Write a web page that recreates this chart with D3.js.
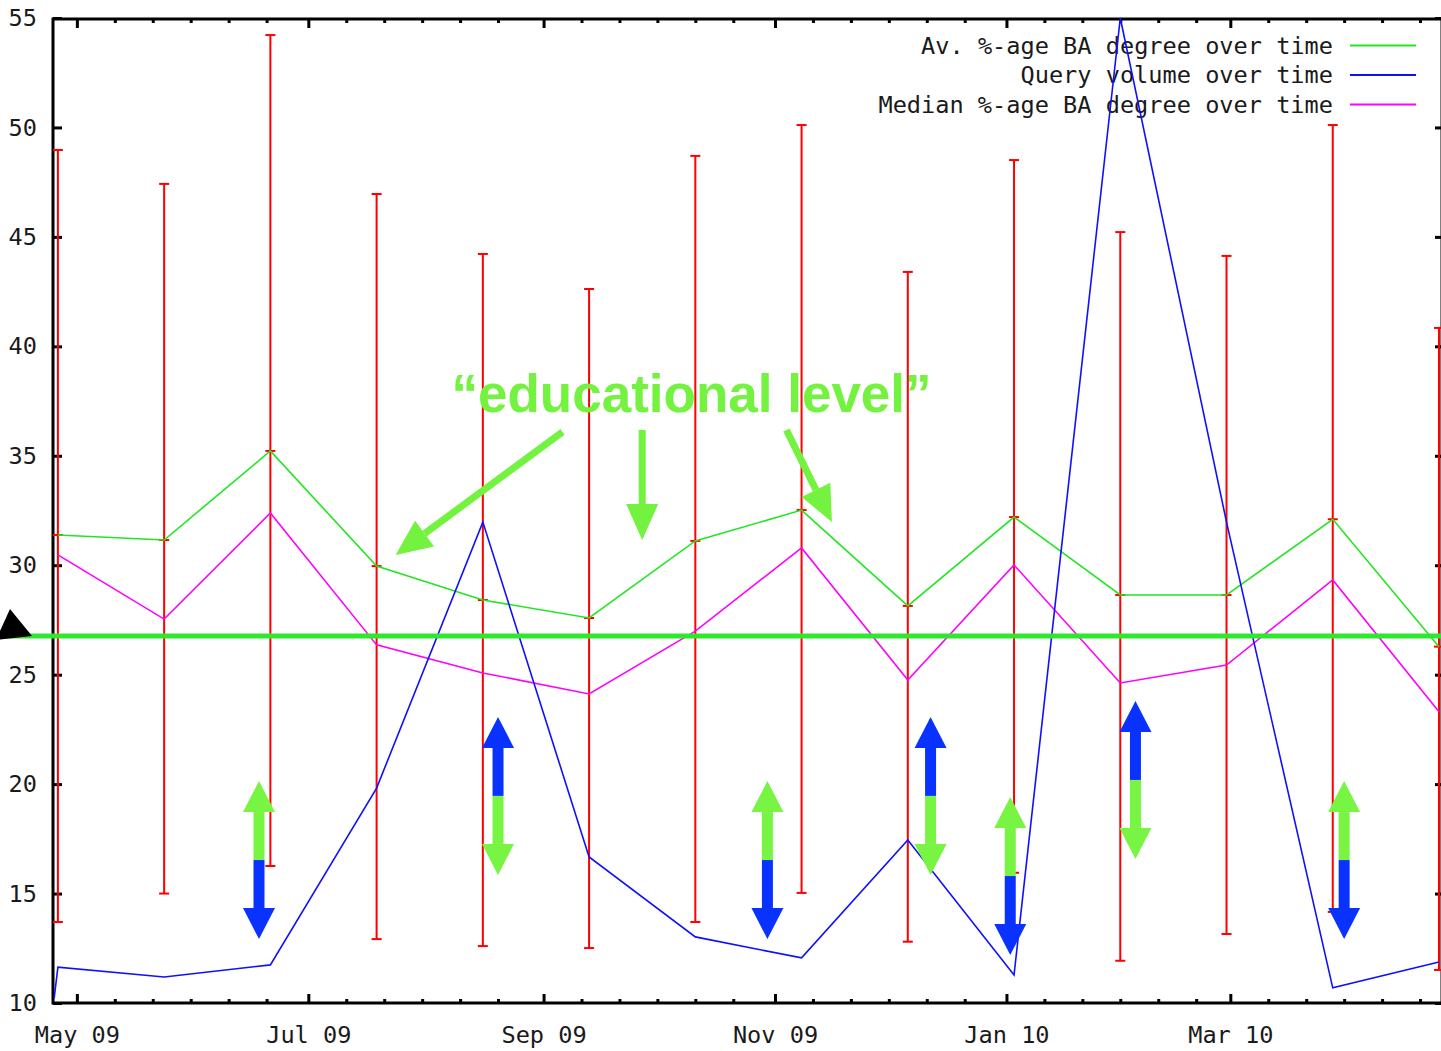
<!DOCTYPE html>
<html lang="en">
<head>
<meta charset="UTF-8">
<title>BA degree vs query volume over time</title>
<script src="https://d3js.org/d3.v7.min.js"></script>
<style>
  body { margin: 0; background: #fff; }
  svg text { font-family: "DejaVu Sans Mono", "Liberation Mono", monospace; font-size: 23.6px; fill: #1a1a1a; }
  .note { font-family: "Liberation Sans", Arial, sans-serif; font-weight: bold; font-size: 53px; fill: #73f23f !important; }
</style>
</head>
<body>
<svg width="1441" height="1051"></svg>
<script>
// sample dates (4-weekly)
const dates = ["2009-04-26", "2009-05-24", "2009-06-21", "2009-07-19", "2009-08-16", "2009-09-13", "2009-10-11",
               "2009-11-08", "2009-12-06", "2010-01-03", "2010-01-31", "2010-02-28", "2010-03-28", "2010-04-25"];
const avgBA    = [31.38, 31.15, 35.22, 29.96, 28.41, 27.59, 31.11, 32.52, 28.14, 32.20, 28.64, 28.64, 32.10, 26.28];
const medianBA = [30.47, 27.54, 32.39, 26.36, 25.08, 24.12, 26.99, 30.79, 24.76, 30.01, 24.62, 25.44, 29.33, 23.31];
const lowBA    = [13.70, 15.00, 16.26, 12.92, 12.60, 12.51, 13.70, 15.03, 12.80, 15.95, 11.93, 13.15, 14.16, 11.51];
const highBA   = [48.97, 47.42, 54.22, 46.96, 44.22, 42.62, 48.70, 50.11, 43.40, 48.51, 45.22, 44.13, 50.11, 40.84];
// query volume has one extra leading sample
const queryDates = ["2009-04-25"].concat(dates);
const queryVol   = [10.2, 11.64, 11.19, 11.74, 19.82, 31.97, 16.67, 13.02, 12.06, 17.45, 11.28, 55.0, 31.97, 10.69, 11.87];

const seriesNames  = ["Av. %-age BA degree over time", "Query volume over time", "Median %-age BA degree over time"];
const seriesColors = ["#22e622", "#1010ff", "#ff00ff"];
const yTicks = [10, 15, 20, 25, 30, 35, 40, 45, 50, 55];

// annotations (placed in data space)
const refLevel = 26.77;
const noteText = "\u201ceducational level\u201d";
const notePos = ["2009-10-10", 37.0];
const noteArrows = [
  {from: ["2009-09-06", 36.09], to: ["2009-07-24", 30.47]},
  {from: ["2009-09-27", 36.18], to: ["2009-09-27", 31.15]},
  {from: ["2009-11-04", 36.18], to: ["2009-11-16", 31.97]}
];
const swapDates = ["2009-06-18", "2009-08-20", "2009-10-30", "2009-12-12", "2010-01-02", "2010-02-04", "2010-03-31"];
const swapMid   = [16.53, 19.46, 16.53, 19.46, 15.80, 20.19, 16.53];
const swapTop   = ["green", "blue", "green", "blue", "green", "blue", "green"];

const parse = d3.timeParse("%Y-%m-%d");
const svg = d3.select("svg");

const x = d3.scaleTime()
  .domain([new Date(2009, 3, 24, 17), new Date(2010, 3, 25, 19)])
  .range([53, 1442]);
const y = d3.scaleLinear().domain([10, 55]).range([1003, 18]);

const majors = d3.timeMonth.every(2).range(new Date(2009, 4, 1), new Date(2010, 3, 25));
const minors = [];
majors.forEach(m => {
  for (let k = 1; k <= 5; k++) {
    const t = d3.timeDay.offset(m, 10 * k);
    if (t < x.domain()[1]) minors.push(t);
  }
});

function styleAxis(g) {
  g.select(".domain").remove();
  g.selectAll(".tick line").attr("stroke", "#000").attr("stroke-width", 3);
}

// bottom
svg.append("g").attr("transform", "translate(0,1003)")
  .call(d3.axisBottom(x).tickValues(majors).tickSize(-9).tickFormat(d3.timeFormat("%b %y")))
  .call(styleAxis)
  .call(g => g.selectAll("text").attr("y", 32).attr("dy", "0.35em").attr("fill", null));
svg.append("g").attr("transform", "translate(0,1003)")
  .call(d3.axisBottom(x).tickValues(minors).tickSize(-4).tickFormat(""))
  .call(styleAxis);
// top (mirror)
svg.append("g").attr("transform", "translate(0,19)")
  .call(d3.axisTop(x).tickValues(majors).tickSize(-9).tickFormat(""))
  .call(styleAxis);
svg.append("g").attr("transform", "translate(0,19)")
  .call(d3.axisTop(x).tickValues(minors).tickSize(-4).tickFormat(""))
  .call(styleAxis);
// left
svg.append("g").attr("transform", "translate(53,0)")
  .call(d3.axisLeft(y).tickValues(yTicks).tickSize(-9).tickPadding(16))
  .call(styleAxis)
  .call(g => g.selectAll("text").attr("fill", null));
// right (mirror)
svg.append("g").attr("transform", "translate(1442,0)")
  .call(d3.axisRight(y).tickValues(yTicks).tickSize(-7).tickFormat(""))
  .call(styleAxis);

svg.append("rect")
  .attr("x", 53).attr("y", 19).attr("width", 1389).attr("height", 984)
  .attr("fill", "none").attr("stroke", "#000").attr("stroke-width", 3);

// legend
const legend = svg.append("g");
seriesNames.forEach((name, i) => {
  const ly = 45.5 + i * 29.5;
  legend.append("text").attr("x", 1333).attr("y", ly).attr("dy", "0.35em")
    .attr("text-anchor", "end").text(name);
  legend.append("line").attr("x1", 1350).attr("x2", 1416).attr("y1", ly).attr("y2", ly)
    .attr("stroke", seriesColors[i]).attr("stroke-width", 2);
});

// error bars
const bars = dates.map((d, i) => ({date: parse(d), lo: lowBA[i], hi: highBA[i], v: avgBA[i]}));
const eb = svg.append("g").attr("stroke", "#ff0000").attr("stroke-width", 2);
bars.forEach(b => {
  const cx = x(b.date);
  eb.append("line").attr("x1", cx).attr("x2", cx).attr("y1", y(b.lo)).attr("y2", y(b.hi));
  eb.append("line").attr("x1", cx - 5).attr("x2", cx + 5).attr("y1", y(b.lo)).attr("y2", y(b.lo));
  eb.append("line").attr("x1", cx - 5).attr("x2", cx + 5).attr("y1", y(b.hi)).attr("y2", y(b.hi));
  eb.append("line").attr("x1", cx - 5).attr("x2", cx + 5).attr("y1", y(b.v)).attr("y2", y(b.v));
});

// series lines
const line = d3.line().x(d => x(d.date)).y(d => y(d.v));
const avgPts = dates.map((d, i) => ({date: parse(d), v: avgBA[i]}));
const medPts = dates.map((d, i) => ({date: parse(d), v: medianBA[i]}));
const qPts = queryDates.map((d, i) => ({date: parse(d), v: queryVol[i]}));
[[avgPts, 0], [medPts, 2], [qPts, 1]].forEach(([pts, c]) => {
  svg.append("path").datum(pts).attr("d", line)
    .attr("fill", "none").attr("stroke", seriesColors[c]).attr("stroke-width", 1.6);
});

// annotation layer
const ann = svg.append("g");
ann.append("line")
  .attr("x1", 0).attr("x2", 1441).attr("y1", y(refLevel)).attr("y2", y(refLevel))
  .attr("stroke", "#2ee82e").attr("stroke-width", 5);
const tipX = x.range()[0] - 21, tipY = y(refLevel);
ann.append("polygon")
  .attr("points", [[tipX, tipY], [tipX - 22, tipY - 27], [tipX - 36, tipY + 4]].join(" "))
  .attr("fill", "#000");

ann.append("text").attr("class", "note")
  .attr("x", x(parse(notePos[0]))).attr("y", y(notePos[1]))
  .attr("text-anchor", "middle").text(noteText);

const noteGreen = "#73f23f";
noteArrows.forEach(a => {
  const x1 = x(parse(a.from[0])), y1 = y(a.from[1]);
  const x2 = x(parse(a.to[0])), y2 = y(a.to[1]);
  const ang = Math.atan2(y2 - y1, x2 - x1);
  const hl = 36, hw = 16;
  const bx = x2 - hl * Math.cos(ang), by = y2 - hl * Math.sin(ang);
  ann.append("line").attr("x1", x1).attr("y1", y1).attr("x2", bx).attr("y2", by)
    .attr("stroke", noteGreen).attr("stroke-width", 7);
  ann.append("polygon").attr("fill", noteGreen).attr("points", [
    [x2, y2],
    [bx + hw * Math.sin(ang), by - hw * Math.cos(ang)],
    [bx - hw * Math.sin(ang), by + hw * Math.cos(ang)]
  ].join(" "));
});

// up/down double arrows
const arrowCol = {green: "#77f542", blue: "#0a32ff"};
swapDates.forEach((d, i) => {
  const cx = x(parse(d)), my = y(swapMid[i]);
  const top = arrowCol[swapTop[i]];
  const bot = swapTop[i] === "green" ? arrowCol.blue : arrowCol.green;
  const half = 79, head = 31, hw = 16, sw = 11;
  ann.append("rect").attr("x", cx - sw / 2).attr("y", my - half + head).attr("width", sw)
    .attr("height", half - head).attr("fill", top);
  ann.append("polygon").attr("fill", top)
    .attr("points", [[cx, my - half], [cx - hw, my - half + head], [cx + hw, my - half + head]].join(" "));
  ann.append("rect").attr("x", cx - sw / 2).attr("y", my).attr("width", sw)
    .attr("height", half - head).attr("fill", bot);
  ann.append("polygon").attr("fill", bot)
    .attr("points", [[cx, my + half], [cx - hw, my + half - head], [cx + hw, my + half - head]].join(" "));
});
</script>
</body>
</html>
